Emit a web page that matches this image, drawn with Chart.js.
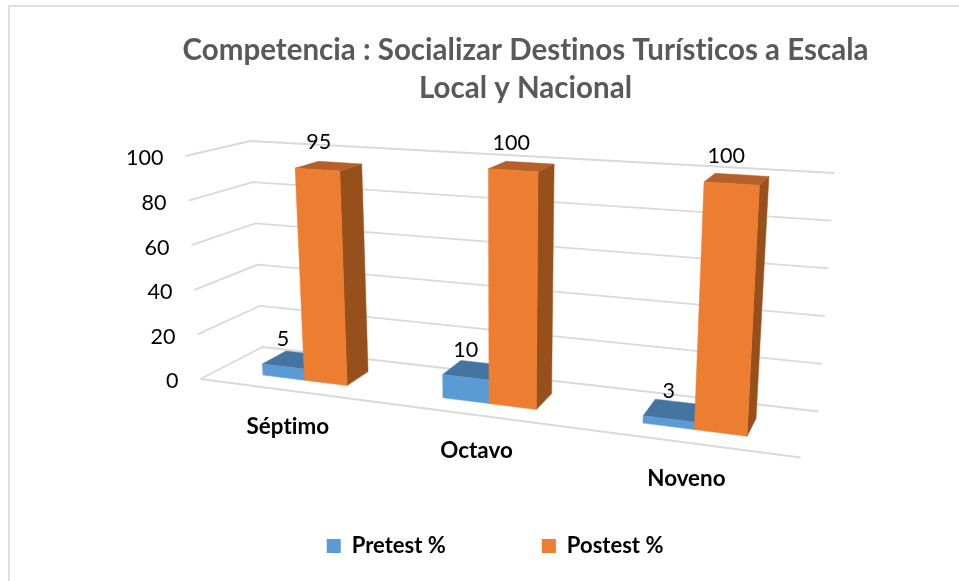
<!DOCTYPE html>
<html>
<head>
<meta charset="utf-8">
<script src="https://cdn.jsdelivr.net/npm/chart.js@4/dist/chart.umd.min.js"></script>
<style>
html,body{margin:0;padding:0;background:#fff;overflow:hidden}
#frame{position:absolute;left:8px;top:5px;right:0;bottom:0;border-left:2px solid #dedede;border-top:2px solid #dedede}
canvas{position:absolute;left:0;top:0}
</style>
</head>
<body>
<div id="frame"></div>
<canvas id="c" width="959" height="581"></canvas>
<script>
const titleLines = ['Competencia : Socializar Destinos Turísticos a Escala', 'Local y Nacional'];
const categories = ['Séptimo', 'Octavo', 'Noveno'];
const pretest = [5, 10, 3];
const posttest = [95, 100, 100];
const yTicks = [0, 20, 40, 60, 80, 100];

const FONT = 'Lato';
const box = {
  f00:[200.5,379], f10:[800.5,457.5], f01:[185.5,156], f11:[815.5,196],
  b00:[262.5,347], b10:[818.5,411.5], b01:[250.5,141], b11:[834.5,173],
  persp:0.174, v0:0.3, v1:0.7
};
function lerp(a,b,k){return a+(b-a)*k;}
function project(t,v,w){
  const u = t/(1+box.persp*(1-t));
  return [0,1].map(i=>{
    const fb = lerp(box.f00[i],box.f10[i],u), ft = lerp(box.f01[i],box.f11[i],u);
    const bb = lerp(box.b00[i],box.b10[i],u), bt = lerp(box.b01[i],box.b11[i],u);
    return lerp(lerp(fb,ft,w),lerp(bb,bt,w),v);
  });
}
function poly(ctx,pts,color){
  ctx.beginPath();
  pts.forEach((p,i)=>i?ctx.lineTo(p[0],p[1]):ctx.moveTo(p[0],p[1]));
  ctx.closePath();
  ctx.fillStyle=color;
  ctx.fill();
  ctx.strokeStyle=color;
  ctx.lineWidth=0.5;
  ctx.stroke();
}
const shades = [
  {front:'#5B9BD5', top:'#44749F', side:'#3A6690'},
  {front:'#ED7D31', top:'#B5602A', side:'#97501C'}
];
const scene = {
  id:'scene',
  afterLayout(chart){
    chart.titleBlock.left += 30.5;
    chart.titleBlock.right += 30.5;
    chart.legend.top = 546 - 11 - chart.options.plugins.legend.labels.padding;
  },
  beforeDraw(chart){
    chart.ctx.letterSpacing='0.01px';
  },
  beforeDatasetsDraw(chart){
    const ctx = chart.ctx, a = chart.chartArea;
    const xs = chart.scales.x, ys = chart.scales.y;
    const toT = px => (px-a.left)/a.width;
    const toW = py => (a.bottom-py)/a.height;
    ctx.save();
    // walls and floor
    ctx.strokeStyle='#d9d9d9';
    ctx.lineWidth=1.8;
    ctx.lineJoin='round';
    ys.ticks.forEach(tk=>{
      const w = toW(ys.getPixelForValue(tk.value));
      const p0=project(0,0,w), p1=project(0,1,w), p2=project(1,1,w);
      ctx.beginPath();ctx.moveTo(p0[0],p0[1]);ctx.lineTo(p1[0],p1[1]);ctx.lineTo(p2[0],p2[1]);ctx.stroke();
    });
    const f0=project(0,0,0), f1=project(1,0,0);
    ctx.beginPath();ctx.moveTo(f0[0],f0[1]);ctx.lineTo(f1[0],f1[1]);ctx.stroke();
    // y tick labels
    ctx.fillStyle='#000';
    ctx.font='21.5px '+FONT;
    ctx.textAlign='right';
    ctx.textBaseline='middle';
    ys.ticks.forEach(tk=>{
      const p=project(0,0,toW(ys.getPixelForValue(tk.value)));
      ctx.fillText(String(tk.value),p[0]-22,p[1]+2.5);
    });
    // bars, back to front
    const metas=[chart.getDatasetMeta(0),chart.getDatasetMeta(1)];
    const v0=box.v0, v1=box.v1;
    categories.forEach((c,i)=>{
      metas.forEach((m,d)=>{
        const el=m.data[i].getProps(['x','y','base','width'],true);
        const tl=toT(el.x-el.width/2), tr=toT(el.x+el.width/2);
        const wt=toW(el.y), wb=toW(el.base);
        const s=shades[d];
        poly(ctx,[project(tr,v0,wb),project(tr,v1,wb),project(tr,v1,wt),project(tr,v0,wt)],s.side);
        poly(ctx,[project(tl,v0,wt),project(tl,v1,wt),project(tr,v1,wt),project(tr,v0,wt)],s.top);
        poly(ctx,[project(tl,v0,wb),project(tr,v0,wb),project(tr,v0,wt),project(tl,v0,wt)],s.front);
      });
    });
    // value labels
    ctx.fillStyle='#000';
    ctx.font='21.5px '+FONT;
    ctx.textAlign='center';
    ctx.textBaseline='middle';
    metas.forEach((m,d)=>{
      const vals=chart.data.datasets[d].data;
      m.data.forEach((bar,i)=>{
        const el=bar.getProps(['x','y'],true);
        const t=toT(el.x);
        const p=project(t,box.v0,toW(el.y));
        ctx.fillText(String(vals[i]),p[0]+(d?3.5-10*t:0),p[1]-27.5);
      });
    });
    // category labels
    ctx.font='bold 22.4px '+FONT;
    categories.forEach((c,i)=>{
      const p=project(toT(xs.getPixelForValue(i)),0,0);
      ctx.fillText(xs.getLabelForValue(i),p[0],p[1]+36);
    });
    ctx.restore();
    return false;
  }
};
new Chart(document.getElementById('c'),{
  type:'bar',
  data:{labels:categories,datasets:[
    {label:'Pretest %',data:pretest,backgroundColor:'#5B9BD5',categoryPercentage:0.48,barPercentage:1},
    {label:'Postest %',data:posttest,backgroundColor:'#ED7D31',categoryPercentage:0.48,barPercentage:1}
  ]},
  options:{
    responsive:false,
    animation:false,
    layout:{padding:{left:31}},
    scales:{
      x:{display:false,grid:{display:false}},
      y:{display:false,min:0,max:100,afterBuildTicks(s){s.ticks=yTicks.map(v=>({value:v}));}}
    },
    plugins:{
      tooltip:{enabled:false},
      title:{display:true,text:titleLines,color:'#595959',padding:{top:31,bottom:10},
        font:{family:FONT,size:29.5,weight:'bold',lineHeight:1.29}},
      legend:{position:'bottom',labels:{color:'#000',boxWidth:14,boxHeight:14,padding:96,
        font:{family:FONT,size:22,weight:'bold'}}}
    }
  },
  plugins:[scene]
});
</script>
</body>
</html>
